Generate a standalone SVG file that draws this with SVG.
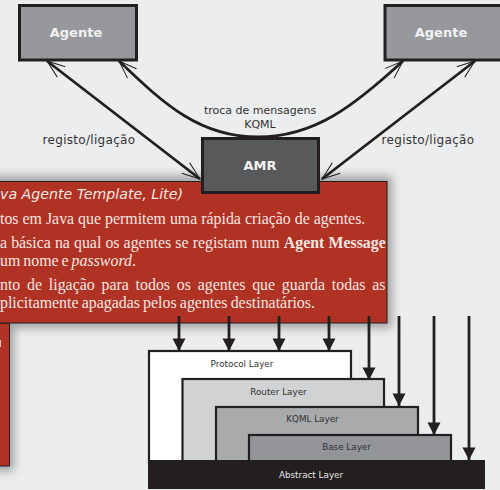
<svg xmlns="http://www.w3.org/2000/svg" width="500" height="490" viewBox="0 0 500 490">
<defs>
<style>
.sans{font-family:"DejaVu Sans",sans-serif}
.agent{fill:#97989b;stroke:#231f20;stroke-width:3}
.title{font-family:"DejaVu Sans",sans-serif;font-weight:bold;font-size:13px;fill:#f2f2f2;text-anchor:middle}
.lbl{font-family:"DejaVu Sans",sans-serif;font-size:11px;fill:#333;text-anchor:middle}
.reg{font-size:12px;letter-spacing:.3px}
.red{fill:#b03224;stroke:#231f20;stroke-width:1}
.body{font-family:"Liberation Serif",serif;font-size:15.9px;fill:#f5e6e0}
.layer{stroke:#231f20;stroke-width:2.2}
.ll{font-family:"DejaVu Sans",sans-serif;font-size:8.8px;fill:#333;text-anchor:middle}
.link{fill:none;stroke:#231f20;stroke-width:2.8;marker-start:url(#open);marker-end:url(#open)}
.down{stroke:#231f20;stroke-width:2.8;marker-end:url(#solid);fill:none}
</style>
<marker id="open" viewBox="-20 -8 22 16" refX="0" refY="0" markerUnits="userSpaceOnUse" markerWidth="22" markerHeight="16" orient="auto-start-reverse"><path d="M-18-6.500 L0 0 L-18 6.500" fill="none" stroke="#231f20" stroke-width="1"/></marker>
<marker id="solid" viewBox="0 0 14 14" refX="13" refY="7" markerUnits="userSpaceOnUse" markerWidth="14" markerHeight="14" orient="auto"><path d="M0.500 0.500 L13 7 L0.500 13.500Z" fill="#231f20"/></marker>
<filter id="sh" x="-10%" y="-15%" width="120%" height="130%"><feGaussianBlur stdDeviation="5"/></filter>
</defs>
<rect width="500" height="490" fill="#ecedee"/>
<g id="shadows" fill="#555" opacity="0.5" filter="url(#sh)">
<rect x="-10" y="176" width="402" height="152"/>
<rect x="-10" y="323" width="24" height="148"/>
</g>
<g id="connectors">
<path class="link" d="M47 61 L200 179"/>
<path class="link" d="M119 61 C165 105 200 137 258 137 C315 137 355 105 403 61"/>
<path class="link" d="M475 61 L322 179"/>
</g>
<g id="agente-1"><rect class="agent" x="19.500" y="5.500" width="117" height="54.500"/><text class="title" x="76" y="37">Agente</text></g>
<g id="agente-2"><rect class="agent" x="385" y="5.500" width="120" height="54.500"/><text class="title" x="441" y="37">Agente</text></g>
<g id="labels">
<text class="lbl reg" x="89" y="144">registo/ligação</text>
<text class="lbl reg" x="428" y="144">registo/ligação</text>
<text class="lbl" x="260" y="114">troca de mensagens</text>
<text class="lbl" x="260" y="128">KQML</text>
</g>
<g id="painel-2"><rect class="red" x="-5" y="323" width="14.500" height="143"/><rect x="0" y="340" width="1" height="7" fill="#e8c8c0"/></g>
<g id="painel-1">
<rect class="red" x="-5" y="181.500" width="392" height="141.500"/>
<text class="sans" x="0" y="199" font-size="14.200" font-style="italic" fill="#f5e6e0">va Agente Template, Lite)</text>
<text class="body" x="0" y="224">tos em Java que permitem uma rápida criação de agentes.</text>
<text class="body" x="0" y="248" word-spacing="0.100">a básica na qual os agentes se registam num <tspan font-weight="bold">Agent Message</tspan></text>
<text class="body" x="0" y="266" word-spacing="-1">um nome e <tspan font-style="italic">password</tspan>.</text>
<text class="body" x="0" y="290" word-spacing="2.800">nto de ligação para todos os agentes que guarda todas as</text>
<text class="body" x="0" y="308" word-spacing="-0.800">plicitamente apagadas pelos agentes destinatários.</text>
</g>
<g id="protocol-layer"><rect class="layer" x="149" y="351" width="202" height="112" fill="#fff"/><text class="ll" x="242" y="367">Protocol Layer</text></g>
<g id="router-layer"><rect class="layer" x="182.500" y="379" width="201.500" height="84" fill="#d1d2d3"/><text class="ll" x="278.500" y="395">Router Layer</text></g>
<g id="kqml-layer"><rect class="layer" x="216" y="407" width="202" height="56" fill="#a9aaac"/><text class="ll" x="312.500" y="422">KQML Layer</text></g>
<g id="base-layer"><rect class="layer" x="249" y="435" width="202" height="28" fill="#939598"/><text class="ll" x="346.500" y="450">Base Layer</text></g>
<g id="abstract-layer"><rect x="148" y="460" width="337" height="29" fill="#231f20"/><text class="ll" x="311" y="478" style="fill:#e6e6e6">Abstract Layer</text></g>
<g id="arrows">
<path class="down" d="M179 316V351"/>
<path class="down" d="M229 316V351"/>
<path class="down" d="M279 316V351"/>
<path class="down" d="M329 316V351"/>
<path class="down" d="M369 316V380"/>
<path class="down" d="M399 316V406"/>
<path class="down" d="M434 316V435"/>
<path class="down" d="M469 316V460"/>
</g>
<g id="amr"><rect x="202.500" y="138.500" width="116" height="54" fill="#58595b" stroke="#231f20" stroke-width="3"/><text class="title" x="260" y="170">AMR</text></g>
</svg>
